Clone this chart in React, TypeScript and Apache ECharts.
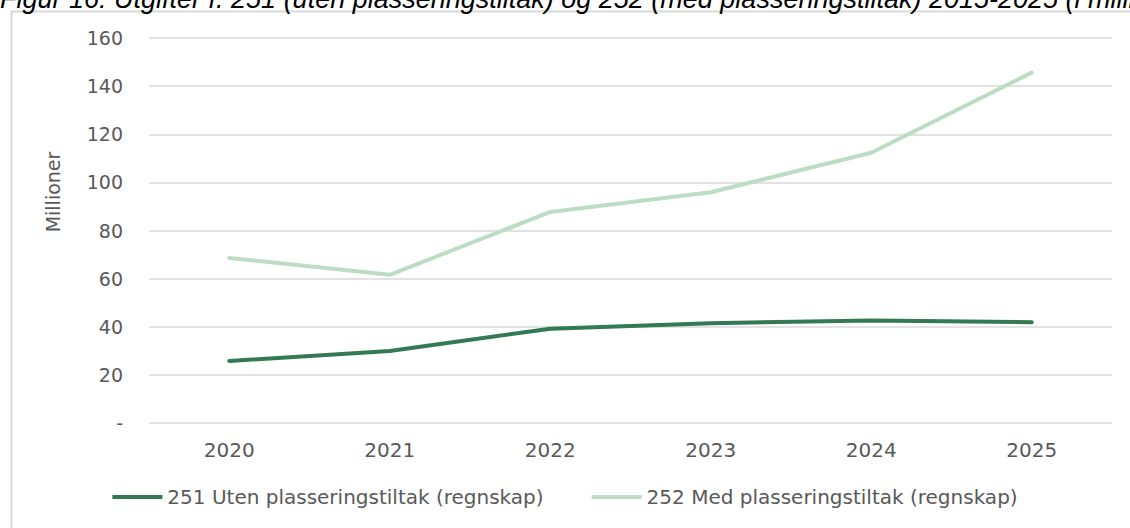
import React, { useEffect, useRef } from "react";
import * as echarts from "echarts";

const years = ["2020", "2021", "2022", "2023", "2024", "2025"];
const uten = [25.8, 29.9, 39.2, 41.5, 42.6, 41.9];
const med = [68.6, 61.6, 87.7, 95.9, 112.3, 145.6];
const seriesNames = ["251 Uten plasseringstiltak (regnskap)", "252 Med plasseringstiltak (regnskap)"];
const titleText = "Figur 16: Utgifter f. 251 (uten plasseringstiltak) og 252 (med plasseringstiltak) 2015-2025 (i millioner kroner)";
const yAxisName = "Millioner";

const FONT = "'DejaVu Sans', sans-serif";

export default function App() {
  const ref = useRef<HTMLDivElement>(null);
  useEffect(() => {
    if (!ref.current) return;
    const chart = echarts.init(ref.current, null, { renderer: "svg" });
    chart.setOption({
      animation: false,
      backgroundColor: "#ffffff",
      textStyle: { fontFamily: FONT },
      graphic: [
        {
          type: "rect",
          left: 9,
          top: 9,
          shape: { width: 1200, height: 600 },
          style: { fill: "none", stroke: "#d9d9d9", lineWidth: 2 },
          z: -1,
        },
        {
          type: "text",
          x: 0,
          y: 12,
          style: {
            text: titleText,
            font: "italic 27px 'Liberation Sans', Arial, sans-serif",
            fill: "#000000",
            verticalAlign: "bottom",
          },
        },
        {
          type: "text",
          x: 53,
          y: 192,
          rotation: Math.PI / 2,
          style: {
            text: yAxisName,
            font: "19px 'DejaVu Sans', sans-serif",
            fill: "#595959",
            align: "center",
            verticalAlign: "middle",
          },
        },
      ],
      grid: { left: 149, right: 18, top: 38, bottom: 105 },
      legend: {
        bottom: 16,
        left: "center",
        itemWidth: 50,
        itemHeight: 4,
        itemGap: 48,
        icon: "rect",
        textStyle: { fontSize: 20, color: "#595959", fontFamily: FONT, padding: [0, 0, 0, 0] },
        data: seriesNames,
      },
      xAxis: {
        type: "category",
        data: years,
        boundaryGap: true,
        axisLine: { show: false },
        axisTick: { show: false },
        axisLabel: { fontSize: 20, color: "#595959", margin: 17 },
      },
      yAxis: {
        type: "value",
        min: 0,
        max: 160,
        interval: 20,
        axisLine: { show: false },
        axisTick: { show: false },
        axisLabel: {
          fontSize: 19,
          color: "#595959",
          margin: 26,
          formatter: (v: number) => (v === 0 ? "-" : String(v)),
        },
        splitLine: { lineStyle: { color: "#d9d9d9", width: 1.5 } },
      },
      series: [
        {
          name: seriesNames[0],
          type: "line",
          data: uten,
          symbol: "none",
          lineStyle: { color: "#327a53", width: 4, cap: "round" },
          itemStyle: { color: "#327a53" },
        },
        {
          name: seriesNames[1],
          type: "line",
          data: med,
          symbol: "none",
          lineStyle: { color: "#bcdcc6", width: 4, cap: "round" },
          itemStyle: { color: "#bcdcc6" },
        },
      ],
    });
    return () => chart.dispose();
  }, []);
  return <div ref={ref} style={{ width: 1130, height: 528, position: "absolute", left: 0, top: 0 }} />;
}
